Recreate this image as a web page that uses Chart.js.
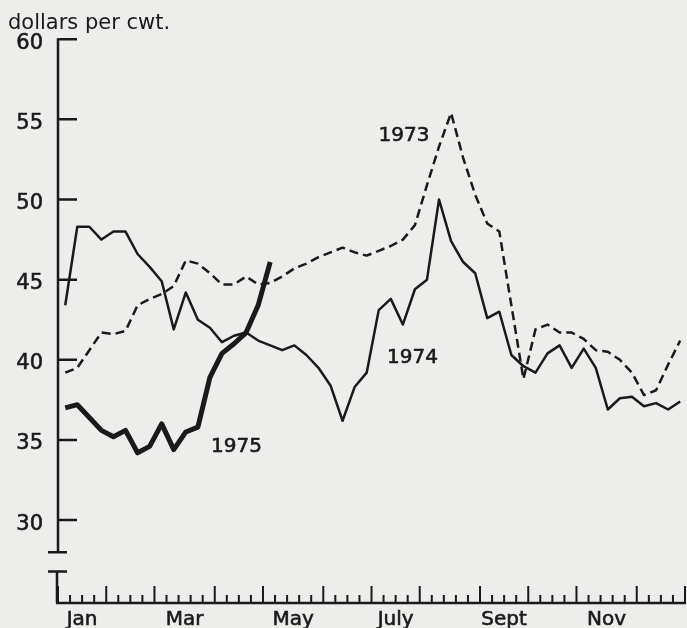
<!DOCTYPE html>
<html>
<head>
<meta charset="utf-8">
<script src="https://cdn.jsdelivr.net/npm/chart.js@4"></script>
<style>
  html, body { margin: 0; padding: 0; background: #ededeb; overflow: hidden; }
  #wrap { width: 687px; height: 637px; }
</style>
</head>
<body>
<div id="wrap"><canvas id="myChart"></canvas></div>
<script>
// weekly prices, dollars per cwt (week 1 = first week of Jan)
const series1973 = [39.2, 39.5, 40.6, 41.7, 41.6, 41.8, 43.4, 43.8, 44.1, 44.6, 46.2, 46.0, 45.4,
                    44.7, 44.7, 45.2, 44.7, 44.8, 45.2, 45.7, 46.0, 46.4, 46.7, 47.0, 46.7, 46.5,
                    46.8, 47.1, 47.5, 48.4, 50.9, 53.3, 55.4, 52.6, 50.3, 48.5, 48.0, 43.4, 38.8,
                    41.9, 42.2, 41.7, 41.7, 41.3, 40.6, 40.5, 40.0, 39.2, 37.8, 38.1, 39.7, 41.2];
const series1974 = [43.4, 48.3, 48.3, 47.5, 48.0, 48.0, 46.6, 45.8, 44.9, 41.9, 44.2, 42.5, 42.0,
                    41.1, 41.5, 41.7, 41.2, 40.9, 40.6, 40.9, 40.3, 39.5, 38.4, 36.2, 38.3, 39.2,
                    43.1, 43.8, 42.2, 44.4, 45.0, 50.0, 47.4, 46.1, 45.4, 42.6, 43.0, 40.3, 39.6,
                    39.2, 40.4, 40.9, 39.5, 40.7, 39.5, 36.9, 37.6, 37.7, 37.1, 37.3, 36.9, 37.4];
const series1975 = [37.0, 37.2, 36.4, 35.6, 35.2, 35.6, 34.2, 34.6, 36.0, 34.4, 35.5, 35.8, 38.9,
                    40.4, 41.0, 41.7, 43.4, 46.1];

const yTicks = [30, 35, 40, 45, 50, 55, 60];
const monthLabels = ['Jan', 'Mar', 'May', 'July', 'Sept', 'Nov'];
// week number where each month starts (tall ticks), plus year end
const monthStarts = [0, 4, 8, 13, 17, 22, 26, 30, 35, 39, 43, 48, 52];
const weekOffset = 0.6;   // observations fall late in each week

const ink = '#1a1a1a';
const font = "'DejaVu Sans', sans-serif";

function toPoints(values) {
    return values.map(function(v, i) { return { x: i + weekOffset, y: v }; });
}

// label centres: middle of every other month
const labelWeeks = monthLabels.map(function(m, k) {
    return (monthStarts[2 * k] + monthStarts[2 * k + 1]) / 2;
});

// axes with a break, inward ticks, week ticks and series names
const axisPlugin = {
    id: 'oldAxes',
    afterDatasetsDraw(chart) {
        const ctx = chart.ctx;
        const area = chart.chartArea;
        const x = chart.scales.x;
        const y = chart.scales.y;
        const left = area.left;
        const bottom = area.bottom;
        ctx.save();
        ctx.strokeStyle = ink;
        ctx.lineWidth = 2.5;

        // upper y axis, 60 down to 28
        const yTop = y.getPixelForValue(60);
        const yBreak1 = y.getPixelForValue(28);
        const yBreak2 = y.getPixelForValue(26.8);
        ctx.beginPath();
        ctx.moveTo(left, yTop - 1);
        ctx.lineTo(left, yBreak1);
        ctx.moveTo(left - 10, yBreak1);
        ctx.lineTo(left + 9, yBreak1);
        // lower stub
        ctx.moveTo(left - 10, yBreak2);
        ctx.lineTo(left + 9, yBreak2);
        ctx.moveTo(left - 1, yBreak2);
        ctx.lineTo(left - 1, bottom);
        ctx.stroke();

        // y ticks pointing in
        ctx.beginPath();
        yTicks.forEach(function(v) {
            const py = y.getPixelForValue(v);
            ctx.moveTo(left, py);
            ctx.lineTo(left + 19, py);
        });
        ctx.stroke();

        // x axis and weekly ticks
        ctx.beginPath();
        ctx.moveTo(left - 2, bottom);
        ctx.lineTo(x.getPixelForValue(52) + 1, bottom);
        ctx.stroke();
        ctx.lineWidth = 2;
        ctx.beginPath();
        for (let w = 0; w <= 52; w++) {
            const px = x.getPixelForValue(w);
            const h = monthStarts.includes(w) ? 17 : 8;
            ctx.moveTo(px, bottom);
            ctx.lineTo(px, bottom - h);
        }
        ctx.stroke();

        // series names
        ctx.fillStyle = ink;
        ctx.lineWidth = 0.6;
        ctx.font = '20px ' + font;
        ctx.textAlign = 'center';
        ctx.textBaseline = 'middle';
        const names = [['1973', 28.7, 54.0], ['1974', 29.4, 40.1], ['1975', 14.8, 34.6]];
        names.forEach(function(n) {
            const px = x.getPixelForValue(n[1]);
            const py = y.getPixelForValue(n[2]);
            ctx.fillText(n[0], px, py);
            ctx.strokeText(n[0], px, py);
        });
        ctx.restore();
    }
};

const ctx = document.getElementById('myChart').getContext('2d');
const myChart = new Chart(ctx, {
    type: 'line',
    data: {
        datasets: [
            {
                label: '1973',
                data: toPoints(series1973),
                borderColor: ink,
                borderWidth: 2.5,
                borderDash: [9, 5]
            },
            {
                label: '1974',
                data: toPoints(series1974),
                borderColor: ink,
                borderWidth: 2.5
            },
            {
                label: '1975',
                data: toPoints(series1975),
                borderColor: ink,
                borderWidth: 5
            }
        ]
    },
    options: {
        responsive: true,
        maintainAspectRatio: false,
        animation: false,
        layout: { padding: { top: 11, left: 8, right: 2, bottom: 0 } },
        elements: {
            point: { radius: 0 },
            line: { tension: 0, borderJoinStyle: 'round' }
        },
        plugins: {
            legend: { display: false },
            tooltip: { enabled: false },
            title: {
                display: true,
                text: 'dollars per cwt.',
                align: 'start',
                color: ink,
                font: { family: font, size: 21, weight: 'normal' },
                padding: { top: 0, bottom: 3 }
            }
        },
        scales: {
            x: {
                type: 'linear',
                min: 0,
                max: 52,
                grid: { display: false, drawTicks: false },
                border: { display: false },
                afterBuildTicks: function(scale) {
                    scale.ticks = labelWeeks.map(function(w) { return { value: w }; });
                },
                ticks: {
                    autoSkip: false,
                    maxRotation: 0,
                    padding: 5,
                    color: ink,
                    textStrokeColor: ink,
                    textStrokeWidth: 0.6,
                    font: { family: font, size: 20 },
                    callback: function(value, index) { return monthLabels[index]; }
                }
            },
            y: {
                min: 24.83,
                max: 60,
                grid: { display: false, drawTicks: false },
                border: { display: false },
                afterBuildTicks: function(scale) {
                    scale.ticks = yTicks.map(function(v) { return { value: v }; });
                },
                afterFit: function(scale) { scale.width = 50; },
                ticks: {
                    padding: 15,
                    labelOffset: 4,
                    color: ink,
                    textStrokeColor: ink,
                    textStrokeWidth: 0.6,
                    font: { family: font, size: 21 }
                }
            }
        }
    },
    plugins: [axisPlugin]
});
</script>
</body>
</html>
